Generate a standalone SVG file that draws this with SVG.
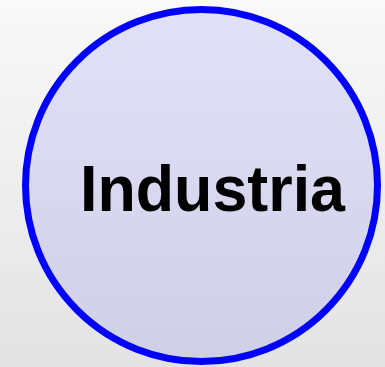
<svg xmlns="http://www.w3.org/2000/svg" width="385" height="367" viewBox="0 0 385 367">
<defs>
<linearGradient id="bg" x1="0" y1="0" x2="0" y2="1">
<stop offset="0" stop-color="#f9f9f9"/>
<stop offset="1" stop-color="#e3e3e3"/>
</linearGradient>
<linearGradient id="fill" x1="0" y1="0" x2="0" y2="1">
<stop offset="0" stop-color="#e1e1f8"/>
<stop offset="1" stop-color="#cfcfe8"/>
</linearGradient>
<style>
.node-circle{fill:url(#fill);stroke:#0000ff;stroke-width:7}
.label{font-family:"Liberation Sans",Arial,sans-serif;font-weight:bold;font-size:65px;fill:#000}
</style>
</defs>
<rect x="0" y="0" width="385" height="367" fill="url(#bg)"/>
<g id="industria">
<circle class="node-circle" cx="201.5" cy="185.5" r="176"/>
<text class="label" x="212.5" y="210.5" text-anchor="middle" textLength="265" lengthAdjust="spacingAndGlyphs">Industria</text>
</g>
<g id="connectors"/>
</svg>
